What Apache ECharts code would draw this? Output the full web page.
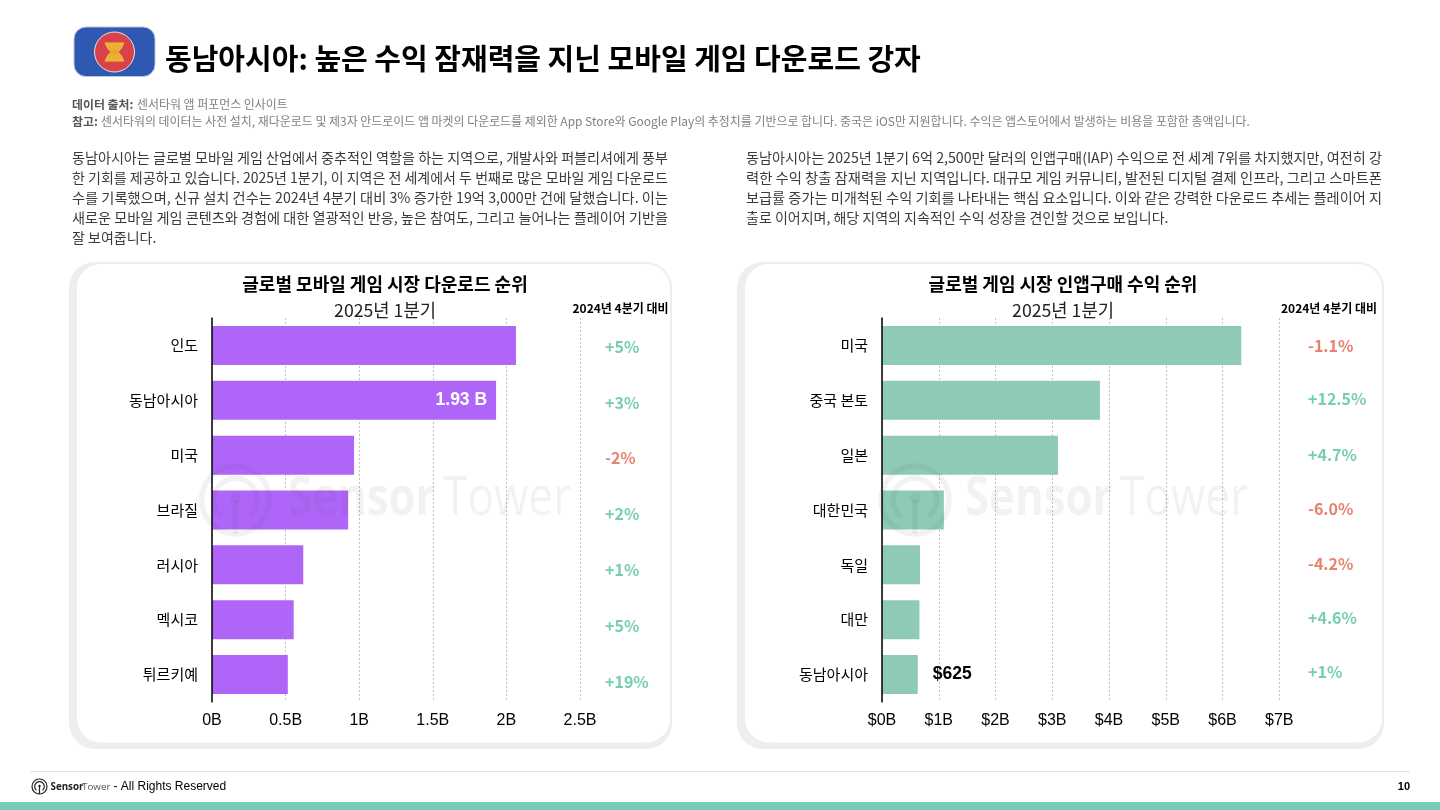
<!DOCTYPE html>
<html>
<head>
<meta charset="utf-8">
<title>동남아시아</title>
<script src="https://cdn.jsdelivr.net/npm/echarts@6/dist/echarts.min.js"></script>
<style>
html, body { margin: 0; padding: 0; background: #fff; }
#main { width: 1440px; height: 810px; }
</style>
</head>
<body>
<div id="main"></div>
<script>
var KR = '"Noto Sans CJK KR"';
var HV = '"Liberation Sans"';

// 왼쪽 차트 데이터
var dlCategories = ['인도', '동남아시아', '미국', '브라질', '러시아', '멕시코', '튀르키예'];
var dlValues = [2.065, 1.93, 0.965, 0.925, 0.62, 0.555, 0.515];
var dlChanges = ['+5%', '+3%', '-2%', '+2%', '+1%', '+5%', '+19%'];

// 오른쪽 차트 데이터
var iapCategories = ['미국', '중국 본토', '일본', '대한민국', '독일', '대만', '동남아시아'];
var iapValues = [6.33, 3.84, 3.1, 1.09, 0.67, 0.66, 0.63];
var iapChanges = ['-1.1%', '+12.5%', '+4.7%', '-6.0%', '-4.2%', '+4.6%', '+1%'];

var bodyLeft = [
    '동남아시아는 글로벌 모바일 게임 산업에서 중추적인 역할을 하는 지역으로, 개발사와 퍼블리셔에게 풍부',
    '한 기회를 제공하고 있습니다. 2025년 1분기, 이 지역은 전 세계에서 두 번째로 많은 모바일 게임 다운로드',
    '수를 기록했으며, 신규 설치 건수는 2024년 4분기 대비 3% 증가한 19억 3,000만 건에 달했습니다. 이는',
    '새로운 모바일 게임 콘텐츠와 경험에 대한 열광적인 반응, 높은 참여도, 그리고 늘어나는 플레이어 기반을',
    '잘 보여줍니다.'
];
var bodyRight = [
    '동남아시아는 2025년 1분기 6억 2,500만 달러의 인앱구매(IAP) 수익으로 전 세계 7위를 차지했지만, 여전히 강',
    '력한 수익 창출 잠재력을 지닌 지역입니다. 대규모 게임 커뮤니티, 발전된 디지털 결제 인프라, 그리고 스마트폰',
    '보급률 증가는 미개척된 수익 기회를 나타내는 핵심 요소입니다. 이와 같은 강력한 다운로드 추세는 플레이어 지',
    '출로 이어지며, 해당 지역의 지속적인 수익 성장을 견인할 것으로 보입니다.'
];

function txt(x, y, text, size, color, weight, align, family) {
    return {
        type: 'text', x: x, y: y, z: 10,
        style: {
            text: text,
            fontSize: size,
            fill: color,
            fontWeight: weight || 'normal',
            fontFamily: family || KR,
            align: align || 'left',
            verticalAlign: 'middle'
        }
    };
}

// 본문은 양쪽 정렬이라 마지막 줄 빼고 폭을 맞춘다
var measureCtx = document.createElement('canvas').getContext('2d');
function bodyLines(lines, x, width) {
    measureCtx.font = '14px ' + KR;
    return lines.map(function (line, i) {
        var el = txt(x, 157.5 + i * 20, line, 14, '#3a3a3a');
        if (i < lines.length - 1) {
            el.scaleX = width / measureCtx.measureText(line).width;
        }
        return el;
    });
}

function card(x, w) {
    return [
        { type: 'rect', z: 0, shape: { x: x, y: 262, width: w, height: 487, r: 26 }, style: { fill: '#eeeeee' } },
        { type: 'rect', z: 1, shape: { x: x + 8, y: 264, width: w - 10, height: 478.5, r: 24 }, style: { fill: '#ffffff' } }
    ];
}

// 센서타워 로고 (원 + 안테나)
function towerIcon(cx, cy, r, color, z) {
    var lw = r * 0.16;
    return [
        { type: 'circle', z: z, shape: { cx: cx, cy: cy, r: r }, style: { fill: 'none', stroke: color, lineWidth: lw } },
        { type: 'arc', z: z, shape: { cx: cx, cy: cy, r: r * 0.64, startAngle: Math.PI * 0.72, endAngle: Math.PI * 0.28 }, style: { fill: 'none', stroke: color, lineWidth: lw } },
        { type: 'circle', z: z, shape: { cx: cx, cy: cy - r * 0.06, r: r * 0.16 }, style: { fill: color } },
        { type: 'line', z: z, shape: { x1: cx, y1: cy, x2: cx, y2: cy + r }, style: { stroke: color, lineWidth: lw } }
    ];
}

function watermark(cx, tx, color) {
    return towerIcon(cx, 500, 34, color, 20).concat([
        { type: 'text', z: 20, x: tx, y: 500, scaleX: 0.81, style: { text: 'Sensor', fontSize: 54, fontWeight: 'bold', fontFamily: '"Open Sans"', fill: color, verticalAlign: 'middle' } },
        { type: 'text', z: 20, x: tx + 155, y: 500, scaleX: 0.82, style: { text: 'Tower', fontSize: 54, fontFamily: '"Open Sans"', fill: color, verticalAlign: 'middle' } }
    ]);
}

// ASEAN 로고
function aseanLogo() {
    var els = [
        { type: 'rect', z: 5, shape: { x: 74, y: 27, width: 81, height: 49.5, r: 12 }, style: { fill: '#2f58b2', stroke: '#b9c4d8', lineWidth: 1 } },
        { type: 'circle', z: 6, shape: { cx: 114.5, cy: 52, r: 20 }, style: { fill: '#d8434b', stroke: '#e8e4e4', lineWidth: 1 } },
        { type: 'polygon', z: 7, shape: { points: [[104.5, 42.5], [124.5, 42.5], [122, 48], [118.5, 52], [122, 56], [124.5, 61.5], [104.5, 61.5], [107, 56], [110.5, 52], [107, 48]] }, style: { fill: '#f3bd3c' } }
    ];
    for (var k = -3; k <= 3; k++) {
        els.push({
            type: 'polyline', z: 8,
            shape: { points: [[114.5 + k * 2.8, 42.5], [114.5 + k * 0.9, 52], [114.5 + k * 2.8, 61.5]] },
            style: { fill: 'none', stroke: '#d9962a', lineWidth: 0.6 }
        });
    }
    return els;
}

var graphics = [];
graphics = graphics.concat(card(69, 603), card(737, 647));
graphics = graphics.concat(aseanLogo());

graphics.push(txt(165, 59, '동남아시아: 높은 수익 잠재력을 지닌 모바일 게임 다운로드 강자', 29, '#000', 'bold'));
graphics.push(txt(72, 104, '데이터 출처:', 11.9, '#555', 'bold'));
graphics.push(txt(137, 104, '센서타워 앱 퍼포먼스 인사이트', 11.95, '#808080'));
graphics.push(txt(72, 121, '참고:', 11.9, '#555', 'bold'));
graphics.push(txt(101, 121, '센서타워의 데이터는 사전 설치, 재다운로드 및 제3자 안드로이드 앱 마켓의 다운로드를 제외한 App Store와 Google Play의 추정치를 기반으로 합니다. 중국은 iOS만 지원합니다. 수익은 앱스토어에서 발생하는 비용을 포함한 총액입니다.', 11.95, '#808080'));

graphics = graphics.concat(bodyLines(bodyLeft, 72, 596));
graphics = graphics.concat(bodyLines(bodyRight, 746, 636));

// 카드 제목
graphics.push(txt(385, 284, '글로벌 모바일 게임 시장 다운로드 순위', 18, '#000', 'bold', 'center'));
graphics.push(txt(385, 310, '2025년 1분기', 17.7, '#222', 'normal', 'center'));
graphics.push(txt(620.5, 308, '2024년 4분기 대비', 12, '#000', 'bold', 'center'));
graphics.push(txt(1063, 284, '글로벌 게임 시장 인앱구매 수익 순위', 18, '#000', 'bold', 'center'));
graphics.push(txt(1063, 310, '2025년 1분기', 17.7, '#222', 'normal', 'center'));
graphics.push(txt(1329, 308, '2024년 4분기 대비', 12, '#000', 'bold', 'center'));

// 증감률
function changeColor(s) {
    return s.charAt(0) === '-' ? '#e8806e' : '#77cdb4';
}
var dlChangeY = [347, 403, 458, 514, 570, 626, 682];
var iapChangeY = [346, 399, 455, 509, 564, 618, 672];
dlChanges.forEach(function (s, i) {
    graphics.push(txt(605, dlChangeY[i], s, 16, changeColor(s), 'bold'));
});
iapChanges.forEach(function (s, i) {
    graphics.push(txt(1308, iapChangeY[i], s, 16, changeColor(s), 'bold'));
});

graphics = graphics.concat(watermark(235.5, 288, 'rgba(70,70,70,0.07)'));
graphics = graphics.concat(watermark(915, 965, 'rgba(70,70,70,0.07)'));

// 하단
graphics.push({ type: 'line', z: 2, shape: { x1: 30, y1: 771.5, x2: 1410, y2: 771.5 }, style: { stroke: '#e4e4e4', lineWidth: 1 } });
graphics = graphics.concat(towerIcon(39.5, 786.5, 7.5, '#222', 5));
graphics.push(txt(50.5, 787, 'Sensor', 9.8, '#222', 'bold', 'left', '"Open Sans"'));
graphics.push(txt(82, 787, 'Tower', 9.8, '#555', 'normal', 'left', '"Open Sans"'));
graphics.push(txt(113.5, 787, '- All Rights Reserved', 12, '#000', 'normal', 'left', HV));
graphics.push(txt(1410, 787, '10', 11, '#000', 'bold', 'right', HV));
graphics.push({ type: 'rect', z: 2, shape: { x: 0, y: 802, width: 1440, height: 8 }, style: { fill: '#76cdb5' } });

function xAxis(idx, max, interval, fmt) {
    return {
        type: 'value', gridIndex: idx, min: 0, max: max, interval: interval, z: 2,
        axisLine: { show: false },
        axisTick: { show: false },
        axisLabel: { color: '#000', fontSize: 16, fontFamily: HV, margin: 11, formatter: fmt },
        splitLine: { show: true, lineStyle: { color: '#c0c0c0', type: [2, 2], width: 1 } }
    };
}

function yAxis(idx, cats) {
    return {
        type: 'category', gridIndex: idx, inverse: true, data: cats, z: 4,
        axisLine: { show: true, lineStyle: { color: '#000', width: 1.5 } },
        axisTick: { show: false },
        axisLabel: { color: '#000', fontSize: 15, fontFamily: KR, margin: 14, padding: [0, 0, 3, 0] }
    };
}

var chart = echarts.init(document.getElementById('main'));
chart.setOption({
    backgroundColor: '#fff',
    animation: false,
    grid: [
        { left: 212, top: 318, width: 368, height: 384 },
        { left: 882, top: 318, width: 397.3, height: 384 }
    ],
    xAxis: [
        xAxis(0, 2.5, 0.5, function (v) { return v + 'B'; }),
        xAxis(1, 7, 1, function (v) { return '$' + v + 'B'; })
    ],
    yAxis: [yAxis(0, dlCategories), yAxis(1, iapCategories)],
    series: [
        {
            type: 'bar', xAxisIndex: 0, yAxisIndex: 0, barWidth: 39, z: 3,
            itemStyle: { color: '#af66f8' },
            data: dlValues.map(function (v, i) {
                if (i !== 1) return v;
                return {
                    value: v,
                    label: { show: true, position: 'insideRight', distance: 9, formatter: '1.93 B', color: '#fff', fontSize: 17.5, fontWeight: 'bold', fontFamily: HV }
                };
            })
        },
        {
            type: 'bar', xAxisIndex: 1, yAxisIndex: 1, barWidth: 39, z: 3,
            itemStyle: { color: '#8fcab7' },
            data: iapValues.map(function (v, i) {
                if (i !== 6) return v;
                return {
                    value: v,
                    label: { show: true, position: 'right', distance: 15, formatter: '$625', color: '#000', fontSize: 17.5, fontWeight: 'bold', fontFamily: HV }
                };
            })
        }
    ],
    graphic: { elements: graphics }
});
</script>
</body>
</html>
